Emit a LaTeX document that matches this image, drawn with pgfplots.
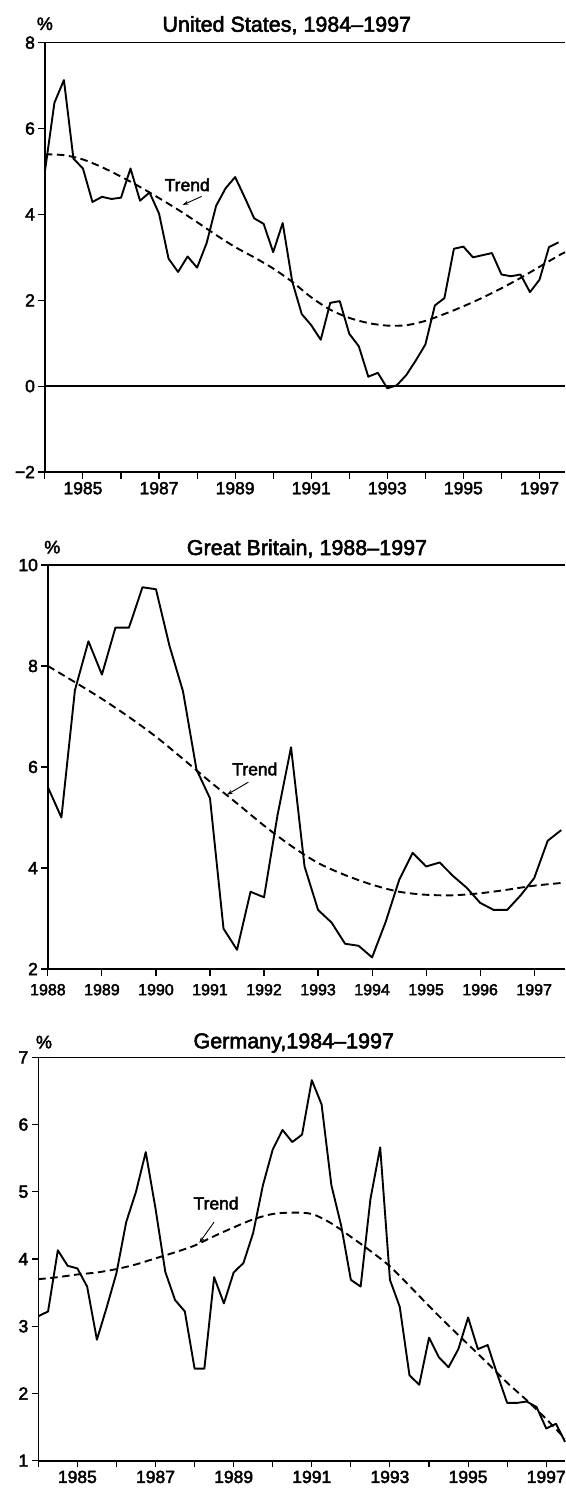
\documentclass[border=0pt]{standalone}
\usepackage{fontspec}
\setmainfont{Liberation Sans}[FakeBold=2.5]
\usepackage{pgfplots}
\pgfplotsset{compat=1.18}
\usetikzlibrary{arrows.meta}

\pgfplotsset{
  panel/.style={
    scale only axis,
    anchor=south west,
    axis x line=bottom, axis y line=left,
    axis line style={-, line width=1.6pt},
    tick style={black, line width=1.1pt},
    major tick length=6.5pt,
    tick align=outside,
    ticklabel style={font=\fontsize{17.5}{20}\selectfont},
    /pgf/number format/assume math mode=true,
    clip=false,
  },
  series/.style={black, line width=1.9pt, line join=round, no markers},
  trend/.style={black, line width=1.9pt, dash pattern=on 7.5pt off 4.5pt, no markers, smooth},
}
\tikzset{
  ttl/.style={font=\fontsize{21.5}{25}\selectfont, anchor=base},
  pct/.style={font=\fontsize{18}{20}\selectfont, anchor=base},
  trendlab/.style={font=\fontsize{17.5}{20}\selectfont},
  trendarr/.style={-{Stealth[length=6pt,width=4pt]}, line width=0.9pt},
}

\begin{document}
\begin{tikzpicture}
\useasboundingbox (0,0) rectangle (565pt,-1488pt);

% ---------------- United States ----------------
\begin{axis}[panel, name=us,
  at={(44.9pt,-472pt)}, width=520.1pt, height=429.3pt,
  xmin=1984, xmax=1997.67, ymin=-2, ymax=8,
  xtick={1984,...,1997},
  xticklabels={,1985,,1987,,1989,,1991,,1993,,1995,,1997},
  ytick={-2,0,2,4,6,8}, yticklabels={−2,0,2,4,6,8},
]
\addplot[series] coordinates {
(1984.00,5.00) (1984.25,6.60) (1984.50,7.13) (1984.75,5.30)
(1985.00,5.07) (1985.25,4.29) (1985.50,4.41) (1985.75,4.36)
(1986.00,4.39) (1986.25,5.07) (1986.50,4.32) (1986.75,4.51)
(1987.00,4.02) (1987.25,2.97) (1987.50,2.66) (1987.75,3.02)
(1988.00,2.76) (1988.25,3.33) (1988.50,4.20) (1988.75,4.61)
(1989.00,4.87) (1989.25,4.40) (1989.50,3.91) (1989.75,3.78)
(1990.00,3.12) (1990.25,3.80) (1990.50,2.44) (1990.75,1.68)
(1991.00,1.42) (1991.25,1.08) (1991.50,1.94) (1991.75,1.98)
(1992.00,1.22) (1992.25,0.93) (1992.50,0.22) (1992.75,0.31)
(1993.00,-0.05) (1993.25,0.02) (1993.50,0.26) (1993.75,0.60)
(1994.00,0.97) (1994.25,1.88) (1994.50,2.05) (1994.75,3.20)
(1995.00,3.25) (1995.25,3.00) (1995.50,3.05) (1995.75,3.10)
(1996.00,2.60) (1996.25,2.56) (1996.50,2.60) (1996.75,2.19)
(1997.00,2.48) (1997.25,3.24) (1997.50,3.35)
};
\addplot[trend] coordinates {
(1984.0,5.40) (1984.5,5.38) (1985.0,5.28) (1985.5,5.10) (1986.0,4.88)
(1986.5,4.64) (1987.0,4.38) (1987.5,4.11) (1988.0,3.82) (1988.5,3.52)
(1989.0,3.24) (1989.5,3.00) (1990.0,2.74) (1990.5,2.43) (1991.0,2.07)
(1991.5,1.78) (1992.0,1.59) (1992.5,1.47) (1993.0,1.41) (1993.5,1.42)
(1994.0,1.52) (1994.5,1.68) (1995.0,1.86) (1995.5,2.06) (1996.0,2.28)
(1996.5,2.52) (1997.0,2.78) (1997.5,3.04) (1997.67,3.12)
};
\draw[line width=1.6pt] (rel axis cs:0,1) -- (rel axis cs:1,1);
\draw[line width=1.6pt] (axis cs:1984,0) -- (axis cs:1997.67,0);
\node[ttl, yshift=11pt] at (rel axis cs:0.465,1) {United States, 1984–1997};
\node[pct, yshift=12.7pt] at (rel axis cs:0,1) {\%};
\node[trendlab] at (axis cs:1987.74,4.69) {Trend};
\draw[trendarr] (axis cs:1988.12,4.42) -- (axis cs:1987.62,4.22);
\end{axis}

% ---------------- Great Britain ----------------
\begin{axis}[panel, name=gb,
  at={(47.9pt,-969pt)}, width=517.1pt, height=404pt,
  xmin=1988, xmax=1997.57, ymin=2, ymax=10,
  xtick={1988,...,1997},
  xticklabels={1988,1989,1990,1991,1992,1993,1994,1995,1996,1997},
  xticklabel style={font=\fontsize{16}{18}\selectfont, yshift=-5pt},
  ytick={2,4,6,8,10}, yticklabels={2,4,6,8,10},
]
\addplot[series] coordinates {
(1988.00,5.60) (1988.25,5.00) (1988.50,7.52) (1988.75,8.49)
(1989.00,7.83) (1989.25,8.76) (1989.50,8.76) (1989.75,9.56)
(1990.00,9.52) (1990.25,8.40) (1990.50,7.50) (1990.75,5.95)
(1991.00,5.38) (1991.25,2.80) (1991.50,2.38) (1991.75,3.53)
(1992.00,3.42) (1992.25,5.05) (1992.50,6.39) (1992.75,4.03)
(1993.00,3.17) (1993.25,2.92) (1993.50,2.50) (1993.75,2.46)
(1994.00,2.23) (1994.25,2.93) (1994.50,3.76) (1994.75,4.30)
(1995.00,4.03) (1995.25,4.11) (1995.50,3.84) (1995.75,3.61)
(1996.00,3.31) (1996.25,3.17) (1996.50,3.17) (1996.75,3.46)
(1997.00,3.80) (1997.25,4.54) (1997.50,4.75)
};
\addplot[trend] coordinates {
(1988.0,8.00) (1988.5,7.68) (1989.0,7.35) (1989.5,6.99) (1990.0,6.60)
(1990.5,6.16) (1991.0,5.71) (1991.5,5.28) (1992.0,4.84) (1992.5,4.44)
(1993.0,4.10) (1993.5,3.86) (1994.0,3.67) (1994.5,3.53) (1995.0,3.47)
(1995.5,3.46) (1996.0,3.50) (1996.5,3.57) (1997.0,3.65) (1997.57,3.71)
};
\draw[line width=1.6pt] (rel axis cs:0,1) -- (rel axis cs:1,1);
\node[ttl, yshift=10pt] at (rel axis cs:0.501,1) {Great Britain, 1988–1997};
\node[pct, yshift=11.7pt, xshift=4.4pt] at (rel axis cs:0,1) {\%};
\node[trendlab] at (axis cs:1991.83,5.96) {Trend};
\draw[trendarr] (axis cs:1991.71,5.70) -- (axis cs:1991.31,5.45);
\end{axis}

% ---------------- Germany ----------------
\begin{axis}[panel, name=de,
  at={(38.3pt,-1460.7pt)}, width=526.7pt, height=403.4pt,
  xmin=1984, xmax=1997.48, ymin=1, ymax=7,
  xtick={1984,...,1997},
  xticklabels={,1985,,1987,,1989,,1991,,1993,,1995,,1997},
  ytick={1,2,3,4,5,6,7}, yticklabels={1,2,3,4,5,6,7},
]
\addplot[series] coordinates {
(1984.00,3.15) (1984.25,3.22) (1984.50,4.13) (1984.75,3.90)
(1985.00,3.86) (1985.25,3.59) (1985.50,2.80) (1985.75,3.28)
(1986.00,3.79) (1986.25,4.55) (1986.50,5.00) (1986.75,5.59)
(1987.00,4.75) (1987.25,3.81) (1987.50,3.39) (1987.75,3.22)
(1988.00,2.37) (1988.25,2.37) (1988.50,3.73) (1988.75,3.34)
(1989.00,3.80) (1989.25,3.94) (1989.50,4.39) (1989.75,5.10)
(1990.00,5.63) (1990.25,5.92) (1990.50,5.74) (1990.75,5.85)
(1991.00,6.66) (1991.25,6.30) (1991.50,5.10) (1991.75,4.50)
(1992.00,3.69) (1992.25,3.59) (1992.50,4.89) (1992.75,5.66)
(1993.00,3.69) (1993.25,3.29) (1993.50,2.27) (1993.75,2.13)
(1994.00,2.83) (1994.25,2.54) (1994.50,2.39) (1994.75,2.66)
(1995.00,3.13) (1995.25,2.66) (1995.50,2.72) (1995.75,2.28)
(1996.00,1.86) (1996.25,1.86) (1996.50,1.88) (1996.75,1.80)
(1997.00,1.48) (1997.25,1.55) (1997.48,1.28)
};
\addplot[trend] coordinates {
(1984.0,3.70) (1984.5,3.73) (1985.0,3.77) (1985.5,3.80) (1986.0,3.85)
(1986.5,3.92) (1987.0,4.01) (1987.5,4.10) (1988.0,4.20) (1988.5,4.34)
(1989.0,4.47) (1989.5,4.59) (1990.0,4.67) (1990.5,4.69) (1991.0,4.67)
(1991.5,4.53) (1992.0,4.33) (1992.5,4.12) (1993.0,3.89) (1993.5,3.60)
(1994.0,3.30) (1994.5,3.01) (1995.0,2.73) (1995.5,2.45) (1996.0,2.16)
(1996.5,1.90) (1997.0,1.62) (1997.48,1.33)
};
\draw[line width=1.6pt] (rel axis cs:0,1) -- (rel axis cs:1,1);
\node[ttl, yshift=9pt] at (rel axis cs:0.485,1) {Germany,1984–1997};
\node[pct, yshift=9pt, xshift=5.7pt] at (rel axis cs:0,1) {\%};
\node[trendlab] at (axis cs:1988.55,4.83) {Trend};
\draw[trendarr] (axis cs:1988.50,4.55) -- (axis cs:1988.12,4.24);
\end{axis}
\end{tikzpicture}
\end{document}
